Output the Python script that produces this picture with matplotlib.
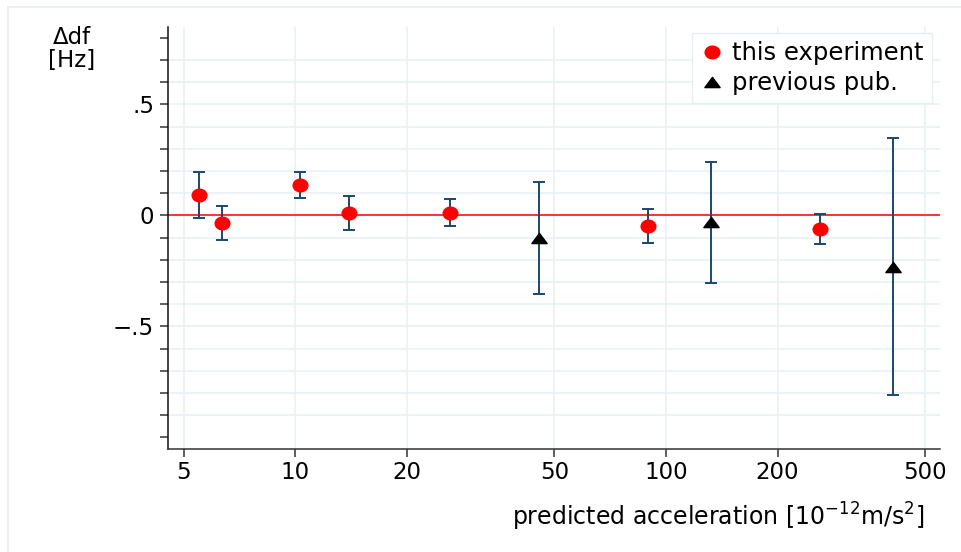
import numpy as np
import matplotlib
matplotlib.use('Agg')
import matplotlib.pyplot as plt
from matplotlib.path import Path
from matplotlib.transforms import Affine2D
from matplotlib.lines import Line2D
from matplotlib.ticker import FixedLocator, NullLocator

# this experiment
exp_acc = [5.5, 6.32, 10.3, 13.97, 26.1, 89.2, 260.4]
exp_df = [0.090, -0.034, 0.137, 0.011, 0.013, -0.048, -0.060]
exp_err = [0.104, 0.076, 0.058, 0.076, 0.061, 0.075, 0.068]

# previous publications
prev_acc = [45.3, 132.3, 409.0]
prev_df = [-0.102, -0.032, -0.231]
prev_err = [0.252, 0.272, 0.579]

xticks = [5, 10, 20, 50, 100, 200, 500]
xticklabels = ['5', '10', '20', '50', '100', '200', '500']
ylabeled = {-0.5: '\u2212.5', 0.0: '0', 0.5: '.5'}

navy = '#1a476f'
gridc = '#e9f1f3'
W, H = 961, 552

plt.rcParams['font.family'] = ['DejaVu Sans']

fig = plt.figure(figsize=(W / 100, H / 100), dpi=100)
ax = fig.add_axes([168 / W, 1 - 448.7 / H, (940 - 168) / W, (448.7 - 26.7) / H])

# light outer frame, like the stata graph region
fig.add_artist(Line2D([8 / W, 8 / W], [0, 1 - 7 / H], transform=fig.transFigure,
                      color='#e6eef0', lw=1.2))
fig.add_artist(Line2D([8 / W, 1], [1 - 7 / H, 1 - 7 / H], transform=fig.transFigure,
                      color='#e6eef0', lw=1.2))

ax.set_xscale('log')
ax.set_xlim(4.53, 549)
ax.set_ylim(-1.051, 0.85)

# grid lines
for xv in xticks:
    ax.axvline(xv, color=gridc, lw=1.2, zorder=0)
yticks = np.round(np.arange(-1.0, 0.81, 0.1), 1)
for yv in yticks:
    if -0.95 < yv < 0.75:
        ax.axhline(yv, color=gridc, lw=1.2, zorder=0)

ax.axhline(0, color='red', lw=1.1, zorder=2)

# markers: stata graph is stretched a bit horizontally
ellipse = Path.unit_circle().transformed(Affine2D().scale(1.0, 0.86))
tri = Path([(0, 1), (-1.5, -1), (1.5, -1), (0, 1)], closed=True)

ax.errorbar(exp_acc, exp_df, yerr=exp_err, fmt='none', ecolor=navy,
            elinewidth=1.4, capsize=4.4, capthick=1.4, zorder=3)
ax.errorbar(prev_acc, prev_df, yerr=prev_err, fmt='none', ecolor=navy,
            elinewidth=1.4, capsize=4.4, capthick=1.4, zorder=3)
h1, = ax.plot(exp_acc, exp_df, linestyle='none', marker=ellipse, ms=10.6,
              color='red', mec='red', zorder=4, label='this experiment')
h2, = ax.plot(prev_acc, prev_df, linestyle='none', marker=tri, ms=11,
              color='black', mec='black', zorder=4, label='previous pub.')

# ticks
ax.xaxis.set_major_locator(FixedLocator(xticks))
ax.xaxis.set_minor_locator(NullLocator())
ax.set_xticklabels(xticklabels)
ax.yaxis.set_major_locator(FixedLocator(yticks))
ax.yaxis.set_minor_locator(NullLocator())
ax.set_yticklabels([ylabeled.get(float(v), '') for v in yticks])
ax.tick_params(axis='both', direction='out', length=6, width=1.1,
               color='#333333', labelsize=16.5, labelcolor='black')
ax.tick_params(axis='y', pad=4)
ax.tick_params(axis='x', pad=3)

for s in ['top', 'right']:
    ax.spines[s].set_visible(False)
ax.spines['left'].set_color('#111111')
ax.spines['bottom'].set_color('#333333')
ax.spines['left'].set_linewidth(1.1)
ax.spines['bottom'].set_linewidth(1.1)

# axis titles
fig.text(72 / W, 1 - 49 / H, '\u0394df\n[Hz]', ha='center', va='center',
         fontsize=16.5, linespacing=0.95)
fig.text(924 / W, 1 - 517 / H, 'predicted acceleration [10$^{-12}$m/s$^{2}$]',
         ha='right', va='center', fontsize=17)

leg = ax.legend(handles=[h1, h2], loc='upper right',
                bbox_to_anchor=(931.7 / W, 1 - 33.3 / H), bbox_transform=fig.transFigure,
                fontsize=17.5, frameon=True, fancybox=False, framealpha=1,
                edgecolor='#e6eef0', borderaxespad=0, borderpad=0.32,
                handlelength=1.0, handletextpad=0.35, labelspacing=0.25,
                markerscale=1)
leg.get_frame().set_linewidth(1.0)
leg.set_zorder(5)

fig.savefig('out.png', dpi=100)
